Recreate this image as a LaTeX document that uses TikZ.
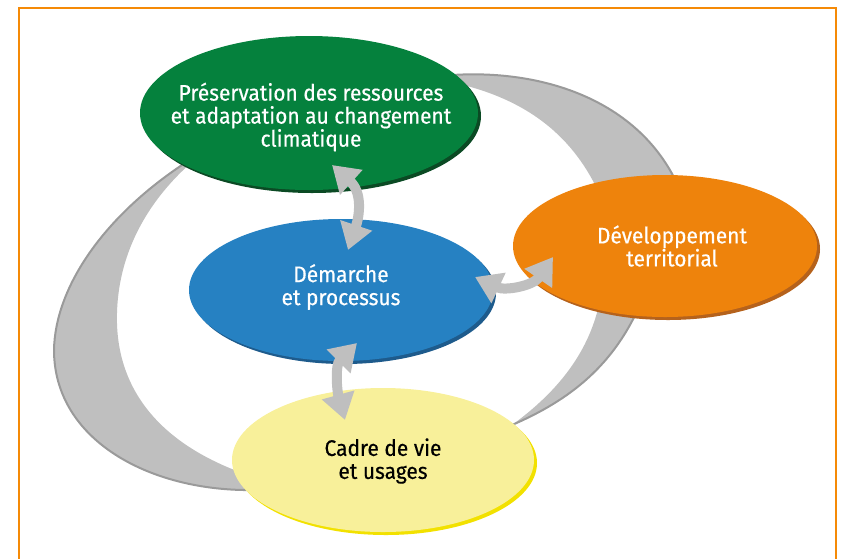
\documentclass[tikz,border=0pt]{standalone}
\usepackage{fontspec}
\setmainfont{Fira Sans}[FakeStretch=0.93, FakeBold=0.4]
\usetikzlibrary{arrows.meta,shapes.geometric}
\definecolor{gGreen}{HTML}{05813D}
\definecolor{gGreenS}{HTML}{0B4A24}
\definecolor{gBlue}{HTML}{2681C2}
\definecolor{gBlueS}{HTML}{1E5B8C}
\definecolor{gOrange}{HTML}{EE830C}
\definecolor{gOrangeS}{HTML}{B5621C}
\definecolor{gYellow}{HTML}{F8F09A}
\definecolor{gYellowS}{HTML}{F2E100}
\definecolor{swoosh}{HTML}{BFBFBF}
\definecolor{swooshEdge}{HTML}{9A9A9A}
\definecolor{frameOrange}{HTML}{F58A07}
\tikzset{
  blob/.style={ellipse, inner sep=0pt},
  lbl/.style={inner sep=0pt, align=center, font=\fontsize{22.5}{23}\selectfont},
  cres/.style={fill=swoosh, draw=none},
  cresedge/.style={draw=swooshEdge, line width=2pt},
  dbl/.style={draw=swoosh, line width=10pt,
    {Triangle[length=26pt,width=32pt]}-{Triangle[length=26pt,width=32pt]}},
}
\begin{document}
\begin{tikzpicture}[x=1pt,y=-1pt]
\useasboundingbox (0,0) rectangle (853,558);
% frame
\draw[frameOrange, line width=2.5pt] (19,560) -- (19,8) -- (836,8) -- (836,560);
% crescents
\fill[cres] (182,165) .. controls (100,220) and (55,290) .. (54,350)
  .. controls (54,440) and (150,492) .. (255,490)
  -- (245,474) .. controls (150,440) and (115,380) .. (117,313)
  .. controls (119,240) and (160,190) .. (192,162) -- cycle;
\draw[cresedge] (182,165) .. controls (100,220) and (55,290) .. (54,350)
  .. controls (54,440) and (150,492) .. (255,490);
\fill[cres] (440,76) .. controls (540,66) and (645,100) .. (682,195)
  -- (600,195) .. controls (575,140) and (530,96) .. (440,80) -- cycle;
\draw[cresedge] (440,76) .. controls (540,66) and (645,100) .. (682,195);
\fill[cres] (642,300) .. controls (615,365) and (570,400) .. (512,425)
  .. controls (560,390) and (590,350) .. (600,300) -- cycle;
\draw[cresedge] (642,300) .. controls (615,365) and (570,400) .. (512,425);
% shadows
\fill[gGreenS] (312,116) ellipse [x radius=169, y radius=77];
\fill[gBlueS] (344,293) ellipse [x radius=152, y radius=71];
\fill[gOrangeS] (668,249) ellipse [x radius=152, y radius=71];
\fill[gYellowS] (386,463) ellipse [x radius=151, y radius=72];
% ellipses
\node[blob, fill=gGreen, minimum width=338pt, minimum height=154pt] (green) at (309,113) {};
\node[blob, fill=gBlue, minimum width=304pt, minimum height=142pt] (blue) at (341,290) {};
\node[blob, fill=gOrange, minimum width=304pt, minimum height=142pt] (orange) at (665,246) {};
\node[blob, fill=gYellow, minimum width=302pt, minimum height=144pt] (yellow) at (383,460) {};
% labels
\node[lbl, text=white] (greenT) at (311,117)
  {Préservation des ressources\\et adaptation au changement\\climatique};
\node[lbl, text=white] (blueT) at (341,287) {Démarche\\et processus};
\node[lbl, text=white] (orangeT) at (672,246) {Développement\\territorial};
\node[lbl, text=black] (yellowT) at (383,461) {Cadre de vie\\et usages};
% arrow ends
\coordinate (gb1) at (332,165);
\coordinate (gb2) at (348,250);
\coordinate (bo1) at (475,277);
\coordinate (bo2) at (553,257);
\coordinate (by1) at (357,343);
\coordinate (by2) at (345,420);
\draw[dbl] (gb1) .. controls (362,192) and (360,214) .. (gb2);
\draw[dbl] (bo1) .. controls (505,291) and (533,286) .. (bo2);
\draw[dbl] (by1) .. controls (335,365) and (337,391) .. (by2);
\end{tikzpicture}
\end{document}
